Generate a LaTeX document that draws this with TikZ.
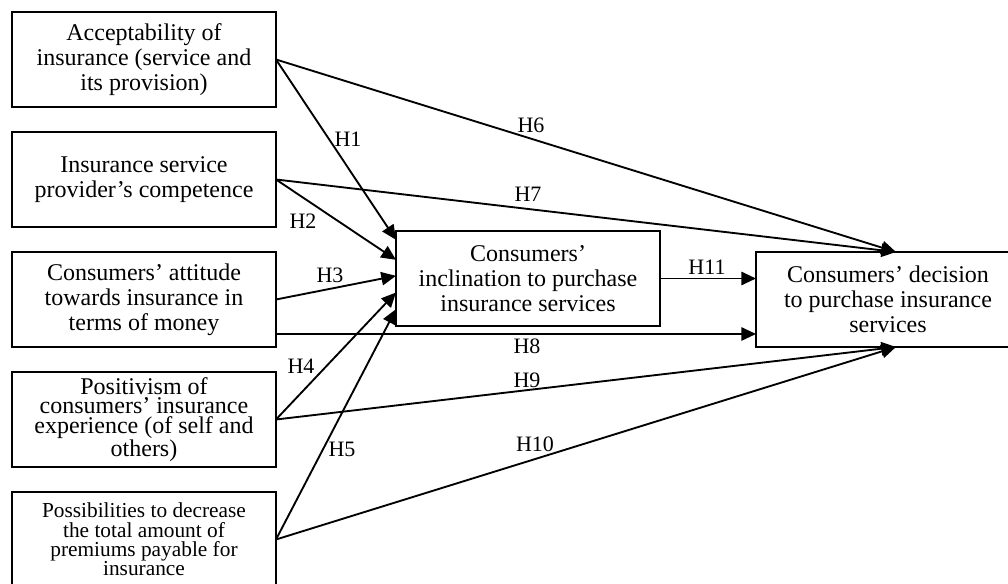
\documentclass[tikz,border=0pt]{standalone}
\usepackage{fontspec}
\setmainfont{Liberation Serif}
\usetikzlibrary{arrows.meta,positioning}

\begin{document}
\begin{tikzpicture}[
    x=0.75pt, y=-0.75pt,
    factor/.style={draw, rectangle, line width=1.4pt, align=center, minimum width=198pt, minimum height=71.25pt, inner sep=2pt, outer sep=0pt, font=\fontsize{18}{18.75}\selectfont},
    hyp/.style={draw, line width=1.4pt, -{Triangle[length=11pt, width=10pt]}},
    hlabel/.style={font=\fontsize{16.5}{18}\selectfont, inner sep=0pt}
]
    \useasboundingbox (0,0) rectangle (1008,584);

    \node[factor] (accept) at (144,59.5) {Acceptability of\\insurance (service and\\its provision)};
    \node[factor, below=18.75pt of accept] (compet) {Insurance service\\provider’s competence};
    \node[factor, below=18.75pt of compet] (money) {Consumers’ attitude\\towards insurance in\\terms of money};
    \node[factor, below=18.75pt of money, font=\fontsize{18}{14.6}\selectfont] (exper) {Positivism of\\consumers’ insurance\\experience (of self and\\others)};
    \node[factor, below=18.75pt of exper, font=\fontsize{16}{14.6}\selectfont] (premium) {Possibilities to decrease\\the total amount of\\premiums payable for\\insurance};

    \node[factor] (inclin) at (528,278.5) {Consumers’\\inclination to purchase\\insurance services};
    \node[factor] (decis) at (888,299.5) {Consumers’ decision\\to purchase insurance\\services};

    \draw[hyp] (accept.east) -- ([yshift=29pt]inclin.west);
    \draw[hyp] (compet.east) -- ([yshift=14pt]inclin.west);
    \draw[hyp] (money.east) -- ([yshift=2pt]inclin.west);
    \draw[hyp] (exper.east) -- ([yshift=-10.5pt]inclin.west);
    \draw[hyp] (premium.east) -- ([yshift=-23pt]inclin.west);

    \draw[hyp] (accept.east) -- ([xshift=6pt]decis.north);
    \draw[hyp] (compet.east) -- ([xshift=6pt]decis.north);
    \draw[hyp] ([yshift=9.75pt]money.south east) coordinate (h8) -- (h8 -| decis.west);
    \draw[hyp] (exper.east) -- ([xshift=6pt]decis.south);
    \draw[hyp] (premium.east) -- ([xshift=6pt]decis.south);
    \draw[hyp] (inclin.east) -- (inclin.east -| decis.west);

    \foreach \h/\x/\y in {1/348/139.5, 2/303/221, 3/330/275, 4/301/366, 5/342/449, 6/531/125, 7/528/194, 8/527/346, 9/527/380, 10/535/444, 11/707/267}
        \node[hlabel] (h\h) at (\x,\y) {H\h};
\end{tikzpicture}
\end{document}
